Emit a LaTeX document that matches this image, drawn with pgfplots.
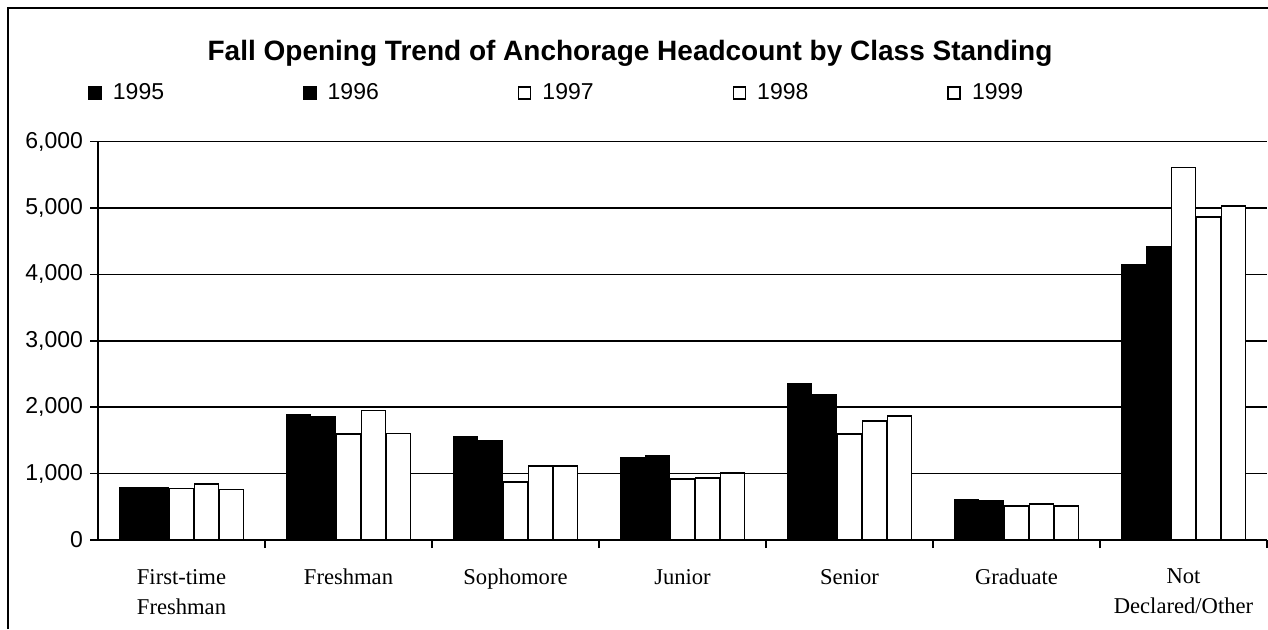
\documentclass[border=0pt]{standalone}
\usepackage{fontspec}
\setmainfont{Liberation Sans}
\newfontfamily\timesf{Liberation Serif}
\usepackage{pgfplots}
\pgfplotsset{compat=1.18}

\begin{document}
\begin{tikzpicture}
\useasboundingbox (0,0) rectangle (634pt,314.5pt);
% outer frame (only left and top visible in the scan)
\draw[line width=1pt] (4pt,0) -- (4pt,310.5pt) -- (634pt,310.5pt);
\node[font=\bfseries\fontsize{14}{16}\selectfont] at (315pt,288pt)
  {Fall Opening Trend of Anchorage Headcount by Class Standing};
\begin{axis}[
  at={(49pt,44.5pt)}, anchor=south west,
  scale only axis, width=584.5pt, height=199.2pt,
  ybar=0.5pt, bar width=12pt,
  xmin=-0.5, xmax=6.5, ymin=0, ymax=6000,
  xtick={0,...,6},
  xticklabels={{First-time\\Freshman},Freshman,Sophomore,Junior,Senior,Graduate,{Not\\Declared/Other}},
  xticklabel style={align=center, font=\timesf\fontsize{11.3}{15}\selectfont, yshift=-7pt},
  major x tick style={draw=none},
  minor xtick={0.5,1.5,...,6.5},
  minor x tick style={black, line width=0.8pt},
  ytick={0,1000,...,6000},
  yticklabel style={font=\fontsize{11.5}{13}\selectfont,
    /pgf/number format/.cd, 1000 sep={,}, assume math mode=true},
  scaled y ticks=false,
  tick align=outside, major tick length=4pt, minor tick length=4pt,
  y tick style={black, line width=0.8pt},
  axis lines*=left,
  axis line style={black, line width=0.9pt},
  ymajorgrids, major grid style={black, line width=0.75pt},
  legend columns=5,
  legend image code/.code={\draw[#1, line width=0.8pt] (0pt,-3pt) rectangle (6pt,3pt);},
  legend style={draw=none, fill=none, inner sep=0pt,
    at={(axis description cs:-0.0086,1.122)}, anchor=west,
    font=\fontsize{11.5}{13}\selectfont,
    /tikz/every odd column/.append style={column sep=3.5pt},
    /tikz/every even column/.append style={column sep=67.5pt}},
  every axis plot/.append style={draw=black, line width=0.9pt},
]
\addplot[fill=black] coordinates {(0,780)(1,1890)(2,1550)(3,1240)(4,2350)(5,610)(6,4140)};
\addlegendentry{1995}
\addplot[fill=black] coordinates {(0,785)(1,1860)(2,1495)(3,1270)(4,2185)(5,585)(6,4420)};
\addlegendentry{1996}
\addplot[fill=white] coordinates {(0,775)(1,1595)(2,875)(3,920)(4,1595)(5,510)(6,5610)};
\addlegendentry{1997}
\addplot[fill=white] coordinates {(0,845)(1,1950)(2,1115)(3,930)(4,1795)(5,540)(6,4860)};
\addlegendentry{1998}
\addplot[fill=white] coordinates {(0,760)(1,1605)(2,1120)(3,1005)(4,1865)(5,510)(6,5030)};
\addlegendentry{1999}
\end{axis}
\end{tikzpicture}
\end{document}
